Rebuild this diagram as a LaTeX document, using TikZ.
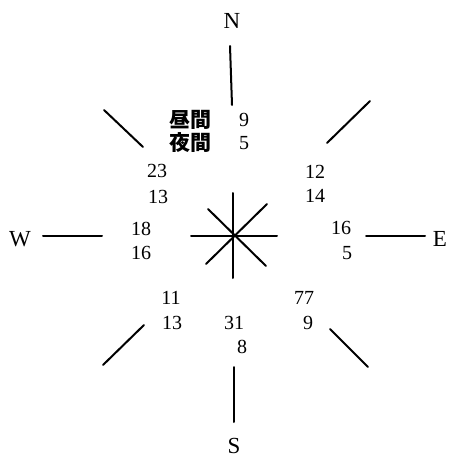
\documentclass[tikz,border=0pt]{standalone}
\usepackage{fontspec}
\setmainfont{Liberation Serif}
\newfontfamily\jpfont{Noto Sans CJK JP}
\tikzset{
  ray/.style={line width=2pt, line cap=round},
  num/.style={inner sep=0pt, font=\fontsize{20}{22}\selectfont},
  dirlabel/.style={inner sep=0pt, font=\fontsize{23}{25}\selectfont},
  jplabel/.style={inner sep=0pt, font=\jpfont\bfseries\fontsize{21}{23}\selectfont},
}
\begin{document}
\begin{tikzpicture}[x=1pt,y=-1pt]
  \useasboundingbox (0,0) rectangle (448,460);
  % compass points
  \node[dirlabel] (lblN) at (232,21) {N};
  \node[dirlabel] (lblS) at (234,446) {S};
  \node[dirlabel] (lblW) at (20,239) {W};
  \node[dirlabel] (lblE) at (440,239) {E};

  % outer strokes
  \draw[ray] (230,46) -- (232,105);
  \draw[ray] (234,367) -- (234,422);
  \draw[ray] (43,236) -- (102,236);
  \draw[ray] (366,236) -- (425,236);
  \draw[ray] (104,110) -- (143,147);
  \draw[ray] (370,101) -- (327,143);
  \draw[ray] (144,325) -- (103,365);
  \draw[ray] (330,329) -- (368,367);

  % star in the middle
  \coordinate (ctr) at (233,236);
  \draw[ray] (233,193) -- (233,278);
  \draw[ray] (191,236) -- (277,236);
  \draw[ray] (208,209) -- (266,266);
  \draw[ray] (267,204) -- (206,264);

  % legend
  \node[jplabel] (day) at (190,120) {昼間};
  \node[jplabel] (night) at (190,143) {夜間};
  \node[num] (nDay) at (244,120) {9};
  \node[num] (nNight) at (244,143) {5};

  % counts
  \node[num] (nwDay) at (157,171) {23};
  \node[num] (nwNight) at (158,197) {13};
  \node[num] (neDay) at (315,172) {12};
  \node[num] (neNight) at (315,196) {14};
  \node[num] (wDay) at (141,229) {18};
  \node[num] (wNight) at (141,253) {16};
  \node[num] (eDay) at (341,228) {16};
  \node[num] (eNight) at (347,253) {5};
  \node[num] (swDay) at (171,298) {11};
  \node[num] (swNight) at (172,323) {13};
  \node[num] (seDay) at (304,298) {77};
  \node[num] (seNight) at (308,323) {9};
  \node[num] (sDay) at (234,323) {31};
  \node[num] (sNight) at (242,347) {8};
\end{tikzpicture}
\end{document}
